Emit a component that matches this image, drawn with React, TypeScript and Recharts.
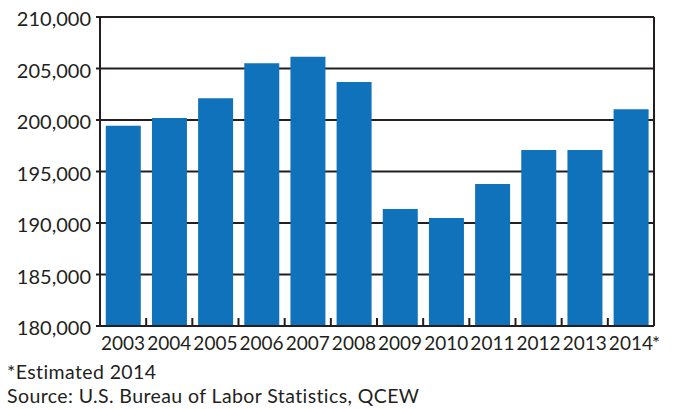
import { BarChart, Bar, XAxis, YAxis, CartesianGrid } from "recharts";

const YEARS = ["2003", "2004", "2005", "2006", "2007", "2008", "2009", "2010", "2011", "2012", "2013", "2014*"];
const EMPLOYMENT = [199450, 200190, 202100, 205510, 206130, 203690, 191360, 190480, 193780, 197090, 197090, 201040];
const Y_TICKS = [180000, 185000, 190000, 195000, 200000, 205000, 210000];
const NOTES = ["*Estimated 2014", "Source: U.S. Bureau of Labor Statistics, QCEW"];

const W = 675;
const H = 360;
const Y_AXIS_W = 100;
const RIGHT = 21;
const BAND = (W - Y_AXIS_W - RIGHT) / YEARS.length;
const INK = "#231f20";
const FONT = "Lato, 'Open Sans', sans-serif";

const data = YEARS.map((year, i) => ({ year, value: EMPLOYMENT[i] }));

// year label centred on the bar, plus an inward tick mark on the boundary to its right
function YearTick(props: any) {
  const { x, y, payload } = props;
  const label: string = String(payload.value);
  const idx = YEARS.indexOf(label);
  const star = label.endsWith("*");
  const main = star ? label.slice(0, -1) : label;
  const bx = Number(x) + BAND / 2;
  const by = Number(y);
  return (
    <g>
      <text x={x} y={by + 24} textAnchor="middle" fill={INK} fontSize={19} fontFamily={FONT}>
        {main}
      </text>
      {star && (
        <text x={Number(x) + 21} y={by + 24} textAnchor="start" fill={INK} fontSize={19} fontFamily={FONT}>
          *
        </text>
      )}
      {idx < YEARS.length - 1 && <rect x={bx - 1} y={by - 8} width={2} height={8} fill={INK} />}
    </g>
  );
}

function ValueTick(props: any) {
  const { x, y, payload } = props;
  return (
    <text x={x} y={y + 9} textAnchor="end" fill={INK} fontSize={20} fontFamily={FONT}>
      {Number(payload.value).toLocaleString("en-US")}
    </text>
  );
}

export default function App() {
  return (
    <div style={{ position: "absolute", left: 0, top: 0, width: W, height: 409, background: "#fff" }}>
      <BarChart
        width={W}
        height={H}
        data={data}
        margin={{ top: 17, right: RIGHT, left: 0, bottom: 0 }}
        barCategoryGap="12.5%"
      >
        <CartesianGrid
          stroke={INK}
          strokeWidth={2}
          verticalCoordinatesGenerator={({ offset }: any) => [offset.left + offset.width]}
        />
        <XAxis
          dataKey="year"
          interval={0}
          height={34}
          tickSize={0}
          tickMargin={0}
          axisLine={{ stroke: INK, strokeWidth: 2 }}
          tickLine={false}
          tick={(p: any) => <YearTick {...p} />}
        />
        <YAxis
          width={Y_AXIS_W}
          domain={[180000, 210000]}
          ticks={Y_TICKS}
          interval={0}
          tickSize={4}
          tickMargin={5}
          axisLine={{ stroke: INK, strokeWidth: 2 }}
          tickLine={{ stroke: INK, strokeWidth: 2 }}
          tick={(p: any) => <ValueTick {...p} />}
        />
        <Bar dataKey="value" fill="#1172bc" isAnimationActive={false} />
      </BarChart>
      <svg width={W} height={409} style={{ position: "absolute", left: 0, top: 0, pointerEvents: "none" }}>
        {NOTES.map((note, i) => (
          <text
            key={note}
            x={7}
            y={379 + i * 24}
            fill={INK}
            fontSize={19.5}
            letterSpacing={0.4}
            fontFamily={FONT}
          >
            {note}
          </text>
        ))}
      </svg>
    </div>
  );
}
